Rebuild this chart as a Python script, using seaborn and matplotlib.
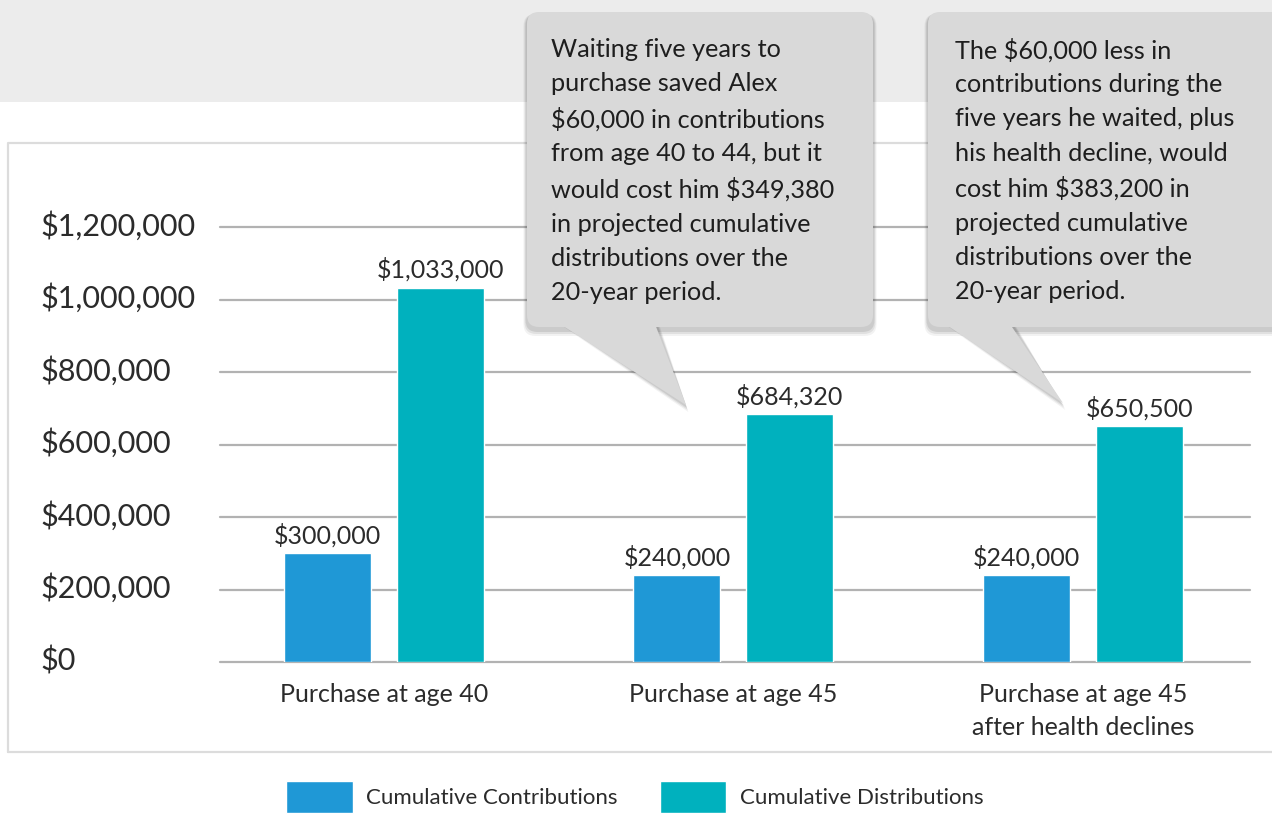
import numpy as np
import pandas as pd
import seaborn as sns
import matplotlib.pyplot as plt
import matplotlib.transforms as mtransforms
from matplotlib.patches import FancyBboxPatch, Polygon, Rectangle
from matplotlib.ticker import FuncFormatter

categories = ["Purchase at age 40", "Purchase at age 45",
              "Purchase at age 45\nafter health declines"]
contributions = [300000, 240000, 240000]
distributions = [1033000, 684320, 650500]
series = ["Cumulative Contributions", "Cumulative Distributions"]
colors = ["#1f98d6", "#00b1be"]
y_ticks = [0, 200000, 400000, 600000, 800000, 1000000, 1200000]

note_1 = ("Waiting five years to\npurchase saved Alex\n$60,000 in contributions\n"
          "from age 40 to 44, but it\nwould cost him $349,380\nin projected cumulative\n"
          "distributions over the\n20-year period.")
note_2 = ("The $60,000 less in\ncontributions during the\nfive years he waited, plus\n"
          "his health decline, would\ncost him $383,200 in\nprojected cumulative\n"
          "distributions over the\n20-year period.")

df = pd.DataFrame({
    "category": categories * 2,
    "series": [series[0]] * 3 + [series[1]] * 3,
    "value": contributions + distributions,
})

sns.set_theme(style="white")
plt.rcParams["font.family"] = ["Lato", "DejaVu Sans"]
txt = "#2b2b2b"

W, H = 1272, 815
fig = plt.figure(figsize=(W / 100, H / 100), dpi=100)

# background layer: grey band and the light frame
bg = fig.add_axes([0, 0, 1, 1], zorder=-5)
bg.set_xlim(0, W)
bg.set_ylim(H, 0)
bg.axis("off")
bg.add_patch(Rectangle((0, 0), W, 102, fc="#ececec", ec="none"))
bg.plot([8, 8, W + 5], [752, 143, 143], color="#dcdcdc", lw=1.6)
bg.plot([8, W + 5], [752, 752], color="#dcdcdc", lw=1.6)

ax = fig.add_axes([220 / W, 1 - 662 / H, (1250 - 220) / W, (662 - 227) / H])
ax.patch.set_visible(False)
sns.barplot(data=df, x="category", y="value", hue="series",
            palette=dict(zip(series, colors)), width=0.6466, gap=0.23,
            saturation=1, ax=ax)

for c in ax.containers:
    ax.bar_label(c, labels=["${:,.0f}".format(v) for v in c.datavalues],
                 padding=4, fontsize=18, color=txt)

ax.set_ylim(0, 1200000)
ax.set_xlim(-0.469, 2.478)
ax.set_yticks(y_ticks)
ax.yaxis.set_major_formatter(FuncFormatter(lambda v, p: "${:,.0f}".format(v)))
for y in y_ticks:
    ax.axhline(y, color="#b2b2b2", lw=1.6, zorder=0, clip_on=False)
sns.despine(ax=ax, left=True, bottom=True)
ax.tick_params(axis="y", length=0, pad=129.5, labelsize=22, labelcolor=txt)
lift = mtransforms.ScaledTranslation(0, 4 / 100, fig.dpi_scale_trans)
for t in ax.get_yticklabels():
    t.set_horizontalalignment("left")
    t.set_transform(t.get_transform() + lift)
ax.tick_params(axis="x", length=0, pad=15, labelsize=18, labelcolor=txt)
for t in ax.get_xticklabels():
    t.set_linespacing(1.55)
ax.set_xlabel("")
ax.set_ylabel("")

sns.move_legend(ax, "center", bbox_to_anchor=(0.499, 1 - 797 / H),
                bbox_transform=fig.transFigure, ncol=2, frameon=False,
                title=None, fontsize=16, handlelength=3.0, handleheight=1.9,
                handletextpad=0.6, columnspacing=1.9, labelcolor=txt)

# foreground layer: speech-bubble notes
fg = fig.add_axes([0, 0, 1, 1], zorder=10)
fg.set_xlim(0, W)
fg.set_ylim(H, 0)
fg.axis("off")


def callout(x0, x1, tail, text, tx):
    y0, y1 = 12, 327
    box = "round,pad=0,rounding_size=12"
    for k, a in [(7, 0.05), (5, 0.07), (3, 0.09)]:
        fg.add_patch(FancyBboxPatch((x0 - k / 2, y0 + 2), x1 - x0 + k, y1 - y0 + k,
                                    boxstyle=box, fc="black", ec="none", alpha=a))
        fg.add_patch(Polygon([(tail[0][0] - k / 2, y1 - 5), (tail[1][0] + k / 2, y1 - 5),
                              (tail[2][0] + k / 3, tail[2][1] + k)],
                             fc="black", ec="none", alpha=a))
    fg.add_patch(FancyBboxPatch((x0, y0), x1 - x0, y1 - y0, boxstyle=box,
                                fc="#d9d9d9", ec="none"))
    fg.add_patch(Polygon([(tail[0][0], y1 - 3), (tail[1][0], y1 - 3), tail[2]],
                         fc="#d9d9d9", ec="none"))
    fg.text(tx, y0 + 26, text, va="top", ha="left", fontsize=18.2,
            color="#1e1e1e", linespacing=1.58)


callout(527, 873, [(560, 0), (655, 0), (686, 405)], note_1, 551)
callout(928, 1285, [(945, 0), (1010, 0), (1063, 403)], note_2, 955)

fig.savefig("out.png", dpi=100)
